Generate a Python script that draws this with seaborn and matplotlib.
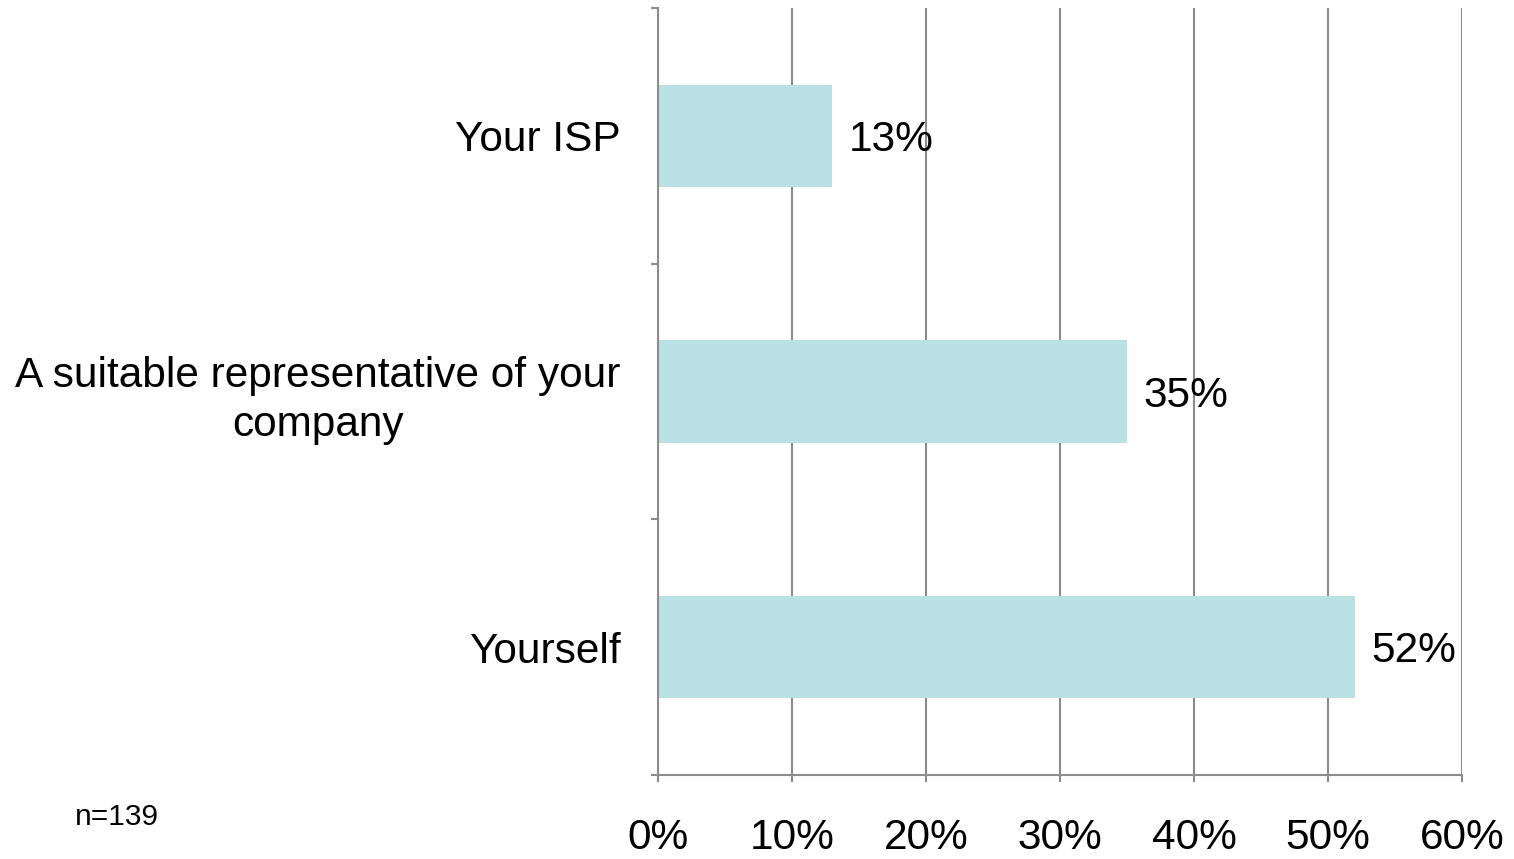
import matplotlib
matplotlib.use("Agg")
import matplotlib.pyplot as plt
import seaborn as sns
from matplotlib.ticker import FixedLocator, FuncFormatter

# Survey responses: share of respondents per option (percent)
categories = ["Your ISP", "A suitable representative of your\ncompany", "Yourself"]
values = [13, 35, 52]
x_ticks = [0, 10, 20, 30, 40, 50, 60]
sample_note = "n=139"

sns.set_theme(style="white")
plt.rcParams["font.family"] = ["Liberation Sans", "DejaVu Sans"]
plt.rcParams["text.color"] = "black"

bar_color = "#B9E0E3"
line_gray = "#8C8C8C"
font_size = 30.5

fig = plt.figure(figsize=(15.14, 8.59), dpi=100)
ax = fig.add_axes([658 / 1514, 1 - 775 / 859, (1462 - 658) / 1514, (775 - 8) / 859])

sns.barplot(x=values, y=categories, orient="h", color=bar_color, saturation=1,
            width=0.4, linewidth=0, ax=ax)

ax.set_xlim(0, 60)
ax.set_ylim(2.5, -0.5)
ax.set_axisbelow(True)

# vertical gridlines at each 10 %
ax.xaxis.set_major_locator(FixedLocator(x_ticks))
ax.xaxis.set_major_formatter(FuncFormatter(lambda v, _: f"{v:.0f}%"))
ax.grid(axis="x", color=line_gray, linewidth=1.5)
ax.grid(axis="y", visible=False)

# category boundaries carry the tick marks, labels sit at category centres
ax.yaxis.set_major_locator(FixedLocator([-0.5, 0.5, 1.5, 2.5]))
ax.yaxis.set_major_formatter(FuncFormatter(lambda v, _: ""))
ax.yaxis.set_minor_locator(FixedLocator([0, 1, 2]))
ax.set_yticklabels(categories, minor=True)
ax.tick_params(axis="y", which="major", length=5, width=1.5, color=line_gray, left=True)
ax.tick_params(axis="y", which="minor", length=0, pad=27, labelsize=font_size, labelcolor="black")
for lbl in ax.get_yticklabels(minor=True):
    lbl.set_multialignment("center")
    lbl.set_linespacing(1.3)

ax.tick_params(axis="x", which="major", length=5, width=1.5, color=line_gray,
               bottom=True, pad=26, labelsize=font_size, labelcolor="black")

ax.set_xlabel("")
ax.set_ylabel("")

for side in ["top", "right"]:
    ax.spines[side].set_visible(False)
for side in ["left", "bottom"]:
    ax.spines[side].set_color(line_gray)
    ax.spines[side].set_linewidth(1.5)

value_texts = ax.bar_label(ax.containers[0], labels=[f"{v}%" for v in values], padding=12,
                           fontsize=font_size, color="black")
for t in value_texts:
    t.set_position((12, -3))

fig.text(75 / 1514, 1 - 817 / 859, sample_note, fontsize=21.5, va="center", ha="left",
         color="black")

fig.savefig("out.png", dpi=100)
